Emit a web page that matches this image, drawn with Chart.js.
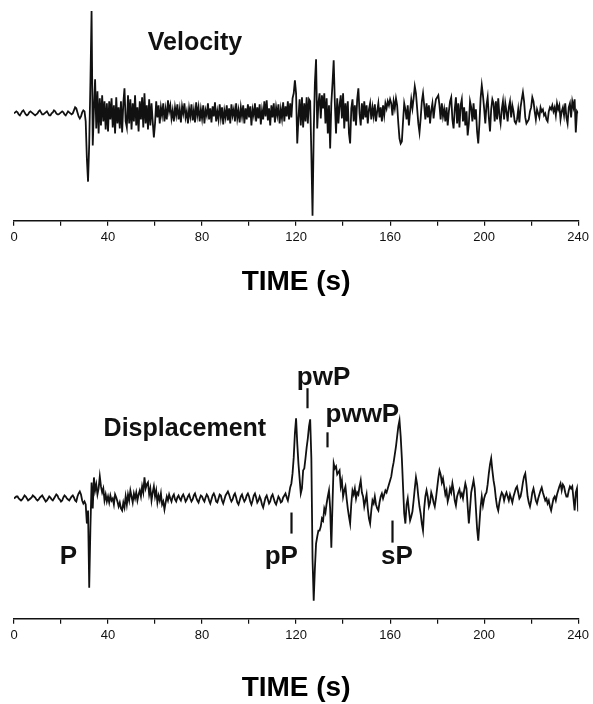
<!DOCTYPE html>
<html>
<head>
<meta charset="utf-8">
<script src="https://cdn.jsdelivr.net/npm/chart.js@4.4.1/dist/chart.umd.min.js"></script>
<style>
  body { margin: 0; background: #fff; overflow: hidden; }
  #wrap { position: relative; width: 593px; height: 704px; overflow: hidden; }
  canvas { position: absolute; left: 0; }
</style>
</head>
<body>
<div id="wrap">
  <canvas id="velChart" width="593" height="300" style="top:0"></canvas>
  <canvas id="dispChart" width="593" height="404" style="top:302px"></canvas>
</div>
<script>
// sample spacing of both traces, seconds
var timeStep = 0.5;
var tickLabels = ['0', '40', '80', '120', '160', '200', '240'];

// velocity trace, one value every 0.5 s from 0 to 240 s
var velocity = [
  0,1,2,1,-1,-2,0,2,3,1,-1,-2,-1,1,2,1,0,-1,-2,-1,
  0,2,3,1,-1,-1,0,1,2,0,-2,-2,0,1,3,2,0,-1,-1,0,
  1,2,1,-1,-2,0,2,1,0,-1,0,3,6,5,1,-3,-5,-3,1,3,
  2,-8,-45,-68,-30,30,102,-32,5,34,-15,22,-20,15,-12,18,-8,12,-16,10,
  -18,12,-6,15,-14,8,-20,16,-10,6,-15,12,-19,10,25,-8,-14,18,-10,14,
  -16,10,-8,18,-12,6,-18,12,-6,16,-14,20,-10,8,-16,14,-12,10,-8,-24,
  -10,12,-4,8,-10,6,-2,10,-8,4,-6,13,2,8,-5,3,-8,6,-2,9,
  -6,4,-9,7,0,10,-4,2,-10,5,-3,9,-7,3,-9,11,-2,6,-8,4,
  -5,8,-10,3,-2,10,-6,5,-9,7,-3,11,-8,2,-6,9,-4,6,-11,3,
  -4,8,-7,5,-10,9,-2,4,-8,10,-5,3,-9,6,-3,8,-10,5,-6,9,
  -4,7,-12,4,-2,10,-8,6,-5,9,-11,3,-6,12,-3,13,-7,5,-12,8,
  -4,10,-9,6,-2,9,-10,4,-5,11,-8,7,-3,12,-6,10,-4,15,20,33,
  20,-30,-5,14,-12,16,-14,10,-8,16,-10,14,12,-40,-102,-20,30,54,-15,10,
  20,-5,18,5,20,-10,15,-20,8,-35,10,30,53,10,-20,15,-10,8,18,-5,
  20,-15,10,-8,12,-20,-30,5,14,-8,8,-12,14,25,0,-12,10,-6,12,-4,
  8,-10,4,10,-6,6,-3,9,-8,2,10,-4,6,-8,8,-2,10,5,12,8,
  14,10,-2,12,5,15,8,-10,-25,-30,-28,-8,10,4,-6,8,-12,2,14,5,
  15,27,20,5,-10,-19,-5,12,20,8,-6,10,-4,8,-10,3,10,-5,6,14,
  16,18,8,-6,10,-3,4,-8,6,-12,2,12,16,-6,-15,4,16,-10,10,-14,
  8,14,-8,6,-12,2,-22,-10,12,6,-8,10,-6,4,-18,-30,-10,15,28,18,
  5,-10,8,16,-4,-18,4,14,10,-8,12,-6,15,-2,-10,4,12,-6,10,2,
  -8,6,12,-4,8,2,-8,-10,-6,4,-9,6,14,21,12,-4,-10,-8,-6,2,
  6,16,12,2,-6,4,0,-4,6,2,4,-2,0,-6,-8,2,6,4,8,2,
  6,-2,10,4,8,-6,2,6,-2,10,-4,-10,6,10,-4,12,6,14,-19,2,
  0
];

// displacement trace, same sampling
var displacement = [
  0,1,2,2,0,-1,-2,-1,1,3,2,0,-2,-1,0,1,3,2,1,-1,
  -2,-1,1,2,3,1,-1,-3,-2,0,2,1,-1,-2,0,2,4,3,0,-1,
  -3,-2,1,3,2,0,-1,-2,0,2,3,1,-2,-3,2,5,7,4,-2,-5,
  -3,-6,-25,-12,-89,-30,16,-10,21,8,14,4,10,22,12,6,10,-2,4,-3,
  2,-4,3,-2,0,-6,4,1,-3,-8,-4,-10,-12,-4,-9,2,-6,4,-2,8,
  2,-4,5,0,6,-2,4,8,2,12,6,21,10,14,16,4,10,-2,6,12,
  2,8,-4,3,-2,5,-6,-3,-11,-4,2,-2,4,0,-3,2,4,-1,-3,1,
  3,0,-2,2,4,1,-3,-1,2,4,0,-3,-1,3,5,1,-2,-4,0,3,
  2,-1,-3,1,4,2,-2,-5,-1,3,5,2,-3,-4,0,4,3,-2,-5,-1,
  3,5,7,4,0,-3,-1,3,5,1,-4,-6,-2,2,4,0,-3,-1,3,5,
  2,-3,-6,-2,3,5,1,-4,-2,2,-1,-6,-9,-4,1,3,-1,-5,-3,2,
  4,0,-4,-6,-2,2,0,-4,-3,1,3,5,1,-2,4,11,15,25,41,65,
  80,55,35,20,5,10,28,30,40,51,60,72,79,40,-60,-102,-70,-45,-38,-32,
  -32,-28,-20,-22,-10,-14,-5,2,8,-10,-49,-5,35,30,32,24,26,28,12,18,
  2,8,12,0,-10,-18,-25,-5,8,4,10,0,6,4,12,18,6,2,-8,-2,
  4,-10,-20,-25,-12,-2,-5,2,-6,-10,-12,-4,2,5,0,4,8,6,10,14,
  18,22,30,36,44,52,62,72,78,62,40,12,-15,-25,-6,0,-12,-22,-18,-13,
  -2,10,21,14,2,-8,-15,-25,-32,-10,2,8,2,-8,-4,6,2,-4,-8,0,
  10,20,28,24,16,20,12,4,8,-3,2,10,6,15,8,-2,-7,2,6,9,
  2,5,0,8,15,10,-8,-25,-10,6,12,18,10,-10,-30,-42,-25,-8,2,-7,
  0,4,6,14,25,34,40,28,18,11,0,-8,-12,-4,2,6,4,-2,3,6,
  2,-2,4,0,-4,2,6,10,12,6,0,2,8,16,22,25,14,2,-4,-8,
  -2,6,10,4,-2,-5,0,4,8,11,6,2,-2,0,-5,-2,-8,-12,-6,0,
  2,-2,4,8,12,15,8,14,12,6,2,2,8,12,10,12,0,-12,6,10,
  -13
];

// phase names and the times of their marker bars (P has no bar)
var phaseNames = ['P', 'pP', 'pwP', 'pwwP', 'sP'];
var phaseTimes = [null, 117.9, 124.7, 133.2, 160.7];

// where the words sit, in axis units (t, amplitude)
var phasePlace = [
  { t: 23.1, v: -65 },
  { t: 113.7, v: -65 },
  { t: 131.7, v: 113 },
  { t: 148.2, v: 76 },
  { t: 162.9, v: -65 }
];
var phaseBars = [null, [-14, -35], [110, 90], [66, 51], [-22, -44]];

var ink = '#111';

function toPoints(vals) {
  return vals.map(function (v, i) { return { x: i * timeStep, y: v }; });
}

var textPlugin = {
  id: 'seisText',
  afterDraw: function (chart) {
    var o = chart.options.plugins.seisText;
    if (!o) return;
    var ctx = chart.ctx;
    var xs = chart.scales.x, ys = chart.scales.y;
    ctx.save();
    ctx.fillStyle = ink;
    ctx.strokeStyle = ink;
    ctx.textAlign = 'center';
    (o.texts || []).forEach(function (t) {
      ctx.font = 'bold ' + t.size + 'px "Liberation Sans", Arial, sans-serif';
      ctx.textBaseline = t.baseline;
      ctx.fillText(t.text, xs.getPixelForValue(t.t), ys.getPixelForValue(t.v));
    });
    ctx.lineWidth = 2.2;
    (o.bars || []).forEach(function (b) {
      var x = Math.round(xs.getPixelForValue(b.t)) + 0.5;
      ctx.beginPath();
      ctx.moveTo(x, ys.getPixelForValue(b.v1));
      ctx.lineTo(x, ys.getPixelForValue(b.v2));
      ctx.stroke();
    });
    ctx.restore();
  }
};

function makeChart(id, values, yMin, yMax, padTop, padBottom, titlePad, texts, bars) {
  return new Chart(document.getElementById(id), {
    type: 'line',
    data: {
      datasets: [{
        data: toPoints(values),
        borderColor: ink,
        borderWidth: 1.8,
        pointRadius: 0,
        tension: 0,
        fill: false
      }]
    },
    options: {
      responsive: false,
      animation: false,
      devicePixelRatio: 1,
      layout: { padding: { left: 14, right: 14, top: padTop, bottom: padBottom } },
      plugins: {
        legend: { display: false },
        tooltip: { enabled: false },
        seisText: { texts: texts, bars: bars }
      },
      scales: {
        x: {
          type: 'linear',
          min: 0,
          max: 240,
          border: { display: true, color: ink, width: 1.5 },
          grid: { drawOnChartArea: false, drawTicks: true, tickLength: 5, color: ink, lineWidth: 1.2 },
          ticks: {
            stepSize: 20,
            autoSkip: false,
            maxRotation: 0,
            padding: 4,
            color: ink,
            font: { family: 'Liberation Sans', size: 13 },
            callback: function (v) {
              var i = tickLabels.indexOf(String(v));
              return i >= 0 ? tickLabels[i] : '';
            }
          },
          title: {
            display: true,
            text: 'TIME (s)',
            color: '#000',
            font: { family: 'Liberation Sans', size: 28, weight: 'bold' },
            padding: { top: titlePad, bottom: 0 }
          }
        },
        y: { display: false, min: yMin, max: yMax }
      }
    },
    plugins: [textPlugin]
  });
}

makeChart('velChart', velocity, -107, 108, 5, 1, 16,
  [{ text: 'Velocity', t: 77, v: 70, size: 25, baseline: 'middle' }], []);

var dispTexts = [{ text: 'Displacement', t: 72.7, v: 69, size: 25, baseline: 'middle' }];
var dispBars = [];
phaseNames.forEach(function (name, i) {
  dispTexts.push({ text: name, t: phasePlace[i].t, v: phasePlace[i].v, size: 26, baseline: 'alphabetic' });
  if (phaseTimes[i] !== null) {
    dispBars.push({ t: phaseTimes[i], v1: phaseBars[i][0], v2: phaseBars[i][1] });
  }
});

makeChart('dispChart', displacement, -120, 186, 10, 1, 24, dispTexts, dispBars);
</script>
</body>
</html>
